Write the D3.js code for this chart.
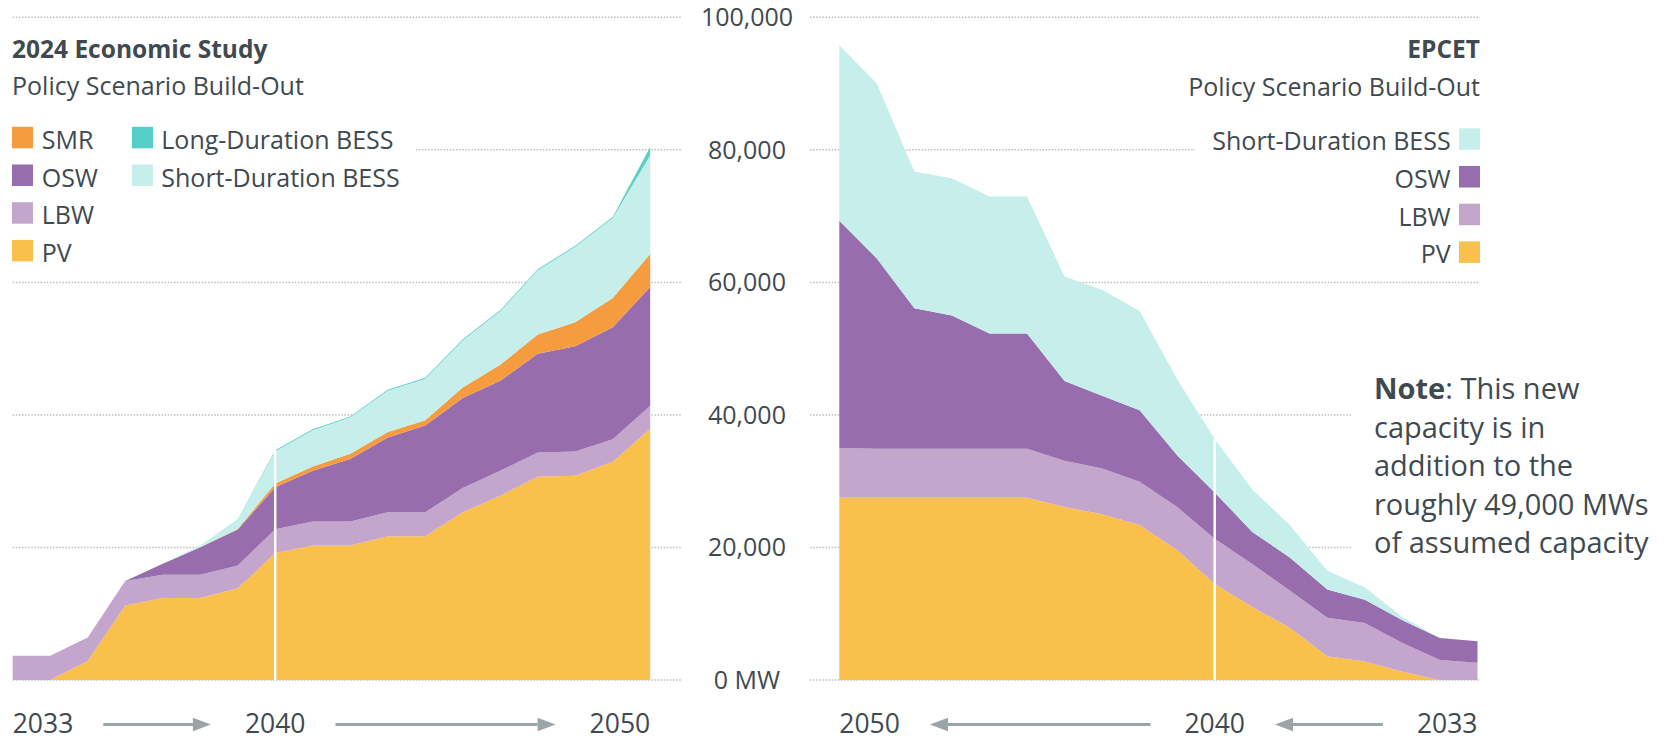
<!DOCTYPE html>
<html>
<head>
<meta charset="utf-8">
<script src="https://cdn.jsdelivr.net/npm/d3@7"></script>
<style>
  body { margin: 0; background: #fff; }
  svg { display: block; font-family: "Open Sans", sans-serif; }
</style>
</head>
<body>
<svg id="chart" width="1674" height="740"></svg>
<script>
// years on both panels (left runs forward, right runs backward)
const years = [2033, 2034, 2035, 2036, 2037, 2038, 2039, 2040, 2041, 2042, 2043, 2044, 2045, 2046, 2047, 2048, 2049, 2050];

// 2024 economic study, MW added per layer
const econPV = [0, 0, 2860, 11230, 12380, 12380, 13830, 19150, 20300, 20300, 21700, 21700, 25310, 27820, 30680, 30830, 32930, 37900];
const econLBW = [3650, 3650, 3560, 3710, 3510, 3510, 3460, 3610, 3610, 3610, 3610, 3610, 3660, 3760, 3650, 3650, 3410, 3500];
const econOSW = [0, 0, 0, 0, 1650, 4160, 5410, 6310, 7670, 9420, 11280, 13090, 13580, 13580, 14890, 15900, 16890, 17890];
const econSMR = [0, 0, 0, 0, 0, 0, 100, 600, 650, 800, 850, 800, 1600, 2400, 2900, 3600, 4400, 5000];
const econSDBESS = [0, 0, 0, 0, 0, 250, 1500, 4850, 5450, 5500, 6200, 6250, 7100, 8100, 9700, 11400, 12100, 14900];
const econLDBESS = [0, 0, 0, 0, 0, 0, 0, 150, 150, 150, 150, 150, 150, 150, 150, 150, 150, 1250];

// epcet scenario, MW added per layer
const epcetPV = [0, 0, 1250, 2800, 3600, 7900, 11000, 14500, 19600, 23400, 25000, 26100, 27500, 27500, 27500, 27500, 27500, 27500];
const epcetLBW = [2600, 3000, 4350, 5800, 5800, 5600, 6500, 6800, 6500, 6500, 6900, 7000, 7400, 7400, 7400, 7400, 7400, 7500];
const epcetOSW = [3250, 3350, 3400, 3500, 4250, 5000, 4850, 7000, 7800, 10800, 11000, 12000, 17400, 17400, 20100, 21200, 28700, 34300];
const epcetSDBESS = [0, 0, 500, 1900, 2850, 4900, 6400, 8050, 11500, 15000, 16000, 15800, 20650, 20650, 20700, 20650, 26400, 26500];

const yTicks = [0, 20000, 40000, 60000, 80000, 100000];
const econLegend1 = ["SMR", "OSW", "LBW", "PV"];
const econLegend2 = ["Long-Duration BESS", "Short-Duration BESS"];
const epcetLegend = ["Short-Duration BESS", "OSW", "LBW", "PV"];
const noteLines = ["capacity is in", "addition to the", "roughly 49,000 MWs", "of assumed capacity"];

const colors = {
  "PV": "#f9c04c",
  "LBW": "#c4a5cc",
  "OSW": "#976dad",
  "SMR": "#f59c41",
  "Long-Duration BESS": "#55cfc7",
  "Short-Duration BESS": "#c6efec"
};
const textColor = "#3f4a50";
const arrowColor = "#9ba5a7";

const svg = d3.select("#chart");

const y = d3.scaleLinear().domain([0, 100000]).range([680, 17.3]);
const xEcon = d3.scaleLinear().domain([2033, 2050]).range([12.7, 650.2]);
const xEpcet = d3.scaleLinear().domain([2050, 2033]).range([839.3, 1477.5]);

// build row tables for d3.stack
const econTable = years.map((yr, i) => ({
  year: yr,
  "PV": econPV[i],
  "LBW": econLBW[i],
  "OSW": econOSW[i],
  "SMR": econSMR[i],
  "Short-Duration BESS": econSDBESS[i],
  "Long-Duration BESS": econLDBESS[i]
}));
const epcetTable = years.map((yr, i) => ({
  year: yr,
  "PV": epcetPV[i],
  "LBW": epcetLBW[i],
  "OSW": epcetOSW[i],
  "Short-Duration BESS": epcetSDBESS[i]
}));

// dotted gridlines, both panels
const grid = svg.append("g");
yTicks.forEach(t => {
  [[12.7, 681], [810, 1480]].forEach(ext => {
    grid.append("line")
      .attr("x1", ext[0]).attr("x2", ext[1])
      .attr("y1", y(t)).attr("y2", y(t))
      .attr("stroke", "#bdbdbd")
      .attr("stroke-width", 1.5)
      .attr("stroke-dasharray", "1.5,1.6");
  });
});

// white boxes so legends / note break the gridlines
svg.append("rect").attr("x", 0).attr("y", 118).attr("width", 416).attr("height", 152).attr("fill", "#fff");
svg.append("rect").attr("x", 1195).attr("y", 118).attr("width", 300).attr("height", 152).attr("fill", "#fff");
svg.append("rect").attr("x", 1351).attr("y", 370).attr("width", 323).attr("height", 195).attr("fill", "#fff");

// y labels in the middle
svg.append("g").selectAll("text")
  .data(yTicks)
  .join("text")
  .attr("x", 747)
  .attr("y", d => y(d) + 8.8)
  .attr("text-anchor", "middle")
  .attr("font-size", 25)
  .attr("fill", textColor)
  .text(d => d === 0 ? "0 MW" : d3.format(",")(d));

function drawStack(table, keys, x) {
  const series = d3.stack().keys(keys)(table);
  const area = d3.area()
    .x(d => x(d.data.year))
    .y0(d => y(d[0]))
    .y1(d => y(d[1]));

  svg.append("g").selectAll("path")
    .data(series)
    .join("path")
    .attr("fill", d => colors[d.key])
    .attr("d", area);

  // white marker at 2040
  const top = series[series.length - 1].find(d => d.data.year === 2040)[1];
  svg.append("line")
    .attr("x1", x(2040)).attr("x2", x(2040))
    .attr("y1", y(top)).attr("y2", y(0))
    .attr("stroke", "#fff")
    .attr("stroke-width", 2.5);
}

drawStack(econTable, ["PV", "LBW", "OSW", "SMR", "Short-Duration BESS", "Long-Duration BESS"], xEcon);
drawStack(epcetTable, ["PV", "LBW", "OSW", "Short-Duration BESS"], xEpcet);

// titles
svg.append("text").attr("x", 12).attr("y", 57.7)
  .attr("font-size", 24.5).attr("font-weight", 700).attr("fill", textColor)
  .text("2024 Economic Study");
svg.append("text").attr("x", 12).attr("y", 95)
  .attr("font-size", 25).attr("fill", textColor)
  .text("Policy Scenario Build-Out");
svg.append("text").attr("x", 1480).attr("y", 58.3)
  .attr("text-anchor", "end")
  .attr("font-size", 24.5).attr("font-weight", 700).attr("fill", textColor)
  .text("EPCET");
svg.append("text").attr("x", 1480).attr("y", 96)
  .attr("text-anchor", "end")
  .attr("font-size", 25).attr("fill", textColor)
  .text("Policy Scenario Build-Out");

// legends
function legendColumn(keys, sx, tx, top, anchor) {
  keys.forEach((k, i) => {
    const ty = top + i * 37.7;
    svg.append("rect")
      .attr("x", sx).attr("y", ty)
      .attr("width", 21).attr("height", 21.5)
      .attr("fill", colors[k]);
    svg.append("text")
      .attr("x", tx).attr("y", ty + 22)
      .attr("text-anchor", anchor)
      .attr("font-size", 25).attr("fill", textColor)
      .text(k);
  });
}
legendColumn(econLegend1, 12, 41.7, 126.8, "start");
legendColumn(econLegend2, 132, 161.3, 126.8, "start");
legendColumn(epcetLegend, 1459, 1450.7, 128.3, "end");

// note
const note = svg.append("text")
  .attr("x", 1374).attr("y", 399.3)
  .attr("font-size", 29).attr("fill", textColor);
note.append("tspan").attr("font-weight", 700).text("Note");
note.append("tspan").text(": This new");
noteLines.forEach((line, i) => {
  svg.append("text")
    .attr("x", 1374).attr("y", 399.3 + (i + 1) * 38.5)
    .attr("font-size", 29).attr("fill", textColor)
    .text(line);
});

// year labels with arrows between them
const yearBase = 732.5;
const arrowY = 724.5;
function yearAxis(x, labels, dir) {
  const boxes = labels.map((yr, i) => {
    const anchor = i === 0 ? "start" : (i === labels.length - 1 ? "end" : "middle");
    const t = svg.append("text")
      .attr("x", x(yr)).attr("y", yearBase)
      .attr("text-anchor", anchor)
      .attr("font-size", 26.5).attr("fill", textColor)
      .text(yr);
    return t.node().getBBox();
  });
  for (let i = 0; i < boxes.length - 1; i++) {
    const a = boxes[i].x + boxes[i].width + 30;
    const b = boxes[i + 1].x - 34;
    const tail = dir > 0 ? a : b;
    const tip = dir > 0 ? b : a;
    const base = tip - dir * 18;
    svg.append("line")
      .attr("x1", tail).attr("x2", base)
      .attr("y1", arrowY).attr("y2", arrowY)
      .attr("stroke", arrowColor).attr("stroke-width", 3);
    svg.append("path")
      .attr("d", `M${tip},${arrowY} L${base},${arrowY - 6.7} L${base},${arrowY + 6.7} Z`)
      .attr("fill", arrowColor);
  }
}
yearAxis(xEcon, [2033, 2040, 2050], 1);
yearAxis(xEpcet, [2050, 2040, 2033], -1);
</script>
</body>
</html>
